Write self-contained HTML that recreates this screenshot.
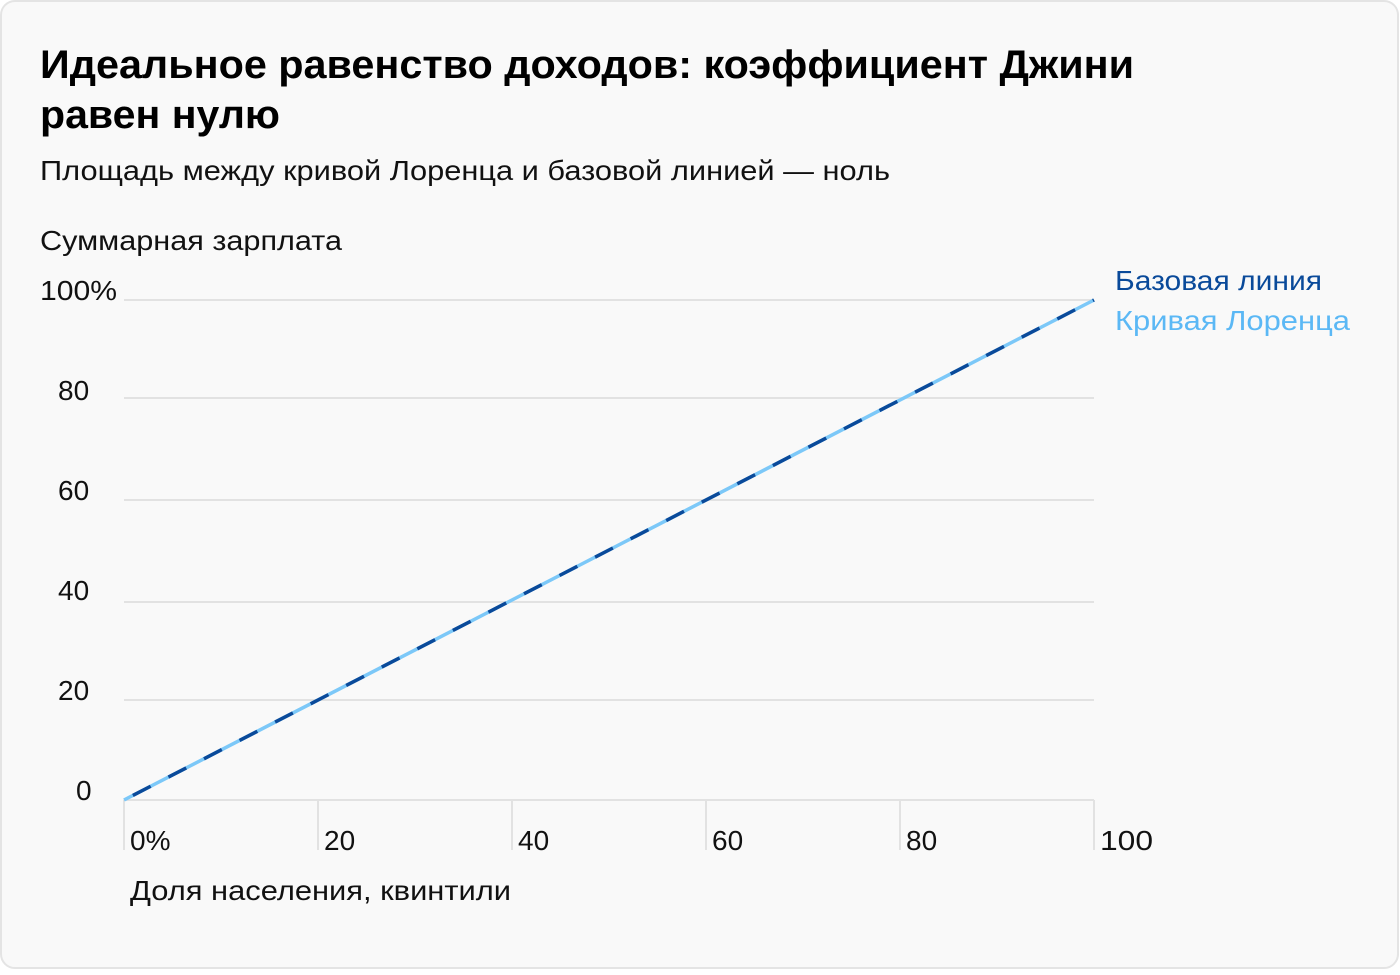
<!DOCTYPE html>
<html><head><meta charset="utf-8"><style>
html,body{margin:0;padding:0;background:#fff;}
body{width:1400px;height:970px;overflow:hidden;}
</style></head><body>
<svg width="1400" height="970" xmlns="http://www.w3.org/2000/svg" font-family="'Liberation Sans', sans-serif">
<rect x="1" y="1" width="1397" height="967" rx="14" fill="#f9f9f9" stroke="#e4e4e4" stroke-width="2"/>
<text x="40" y="78" font-size="40" font-weight="bold" fill="#000" textLength="1094" lengthAdjust="spacingAndGlyphs">Идеальное равенство доходов: коэффициент Джини</text>
<text x="40" y="128" font-size="40" font-weight="bold" fill="#000" textLength="240" lengthAdjust="spacingAndGlyphs">равен нулю</text>
<text x="40" y="180" font-size="28" fill="#111" textLength="850" lengthAdjust="spacingAndGlyphs">Площадь между кривой Лоренца и базовой линией — ноль</text>
<text x="40" y="250" font-size="28" fill="#111" textLength="302" lengthAdjust="spacingAndGlyphs">Суммарная зарплата</text>
<g stroke="#e2e2e2" stroke-width="2">
<line x1="124" y1="300" x2="1094" y2="300"/>
<line x1="124" y1="398" x2="1094" y2="398"/>
<line x1="124" y1="500" x2="1094" y2="500"/>
<line x1="124" y1="602" x2="1094" y2="602"/>
<line x1="124" y1="700" x2="1094" y2="700"/>
<line x1="124" y1="800" x2="1094" y2="800"/>
<line x1="124" y1="800" x2="124" y2="850"/>
<line x1="318" y1="800" x2="318" y2="850"/>
<line x1="512" y1="800" x2="512" y2="850"/>
<line x1="706" y1="800" x2="706" y2="850"/>
<line x1="900" y1="800" x2="900" y2="850"/>
<line x1="1094" y1="800" x2="1094" y2="850"/>
</g>
<g font-size="28" fill="#111">
<text x="40" y="300" textLength="77" lengthAdjust="spacingAndGlyphs">100%</text>
<text x="58" y="400">80</text>
<text x="58" y="500">60</text>
<text x="58" y="600">40</text>
<text x="58" y="700">20</text>
<text x="76" y="800">0</text>
</g>
<g font-size="28" fill="#111">
<text x="130" y="850">0%</text>
<text x="324" y="850">20</text>
<text x="518" y="850">40</text>
<text x="712" y="850">60</text>
<text x="906" y="850">80</text>
<text x="1100" y="850" textLength="53" lengthAdjust="spacingAndGlyphs">100</text>
<text x="130" y="900" textLength="381" lengthAdjust="spacingAndGlyphs">Доля населения, квинтили</text>
</g>
<line x1="124" y1="800" x2="1094" y2="300" stroke="#7cc8f8" stroke-width="3.5"/>
<line x1="124" y1="800" x2="1094" y2="300" stroke="#0a4a9a" stroke-width="3.5" stroke-dasharray="20 20" stroke-dashoffset="-10"/>
<text x="1115" y="290" font-size="28" fill="#0a4a9a" textLength="207" lengthAdjust="spacingAndGlyphs">Базовая линия</text>
<text x="1115" y="330" font-size="28" fill="#5bb8f5" textLength="235" lengthAdjust="spacingAndGlyphs">Кривая Лоренца</text>
</svg>
</body></html>
